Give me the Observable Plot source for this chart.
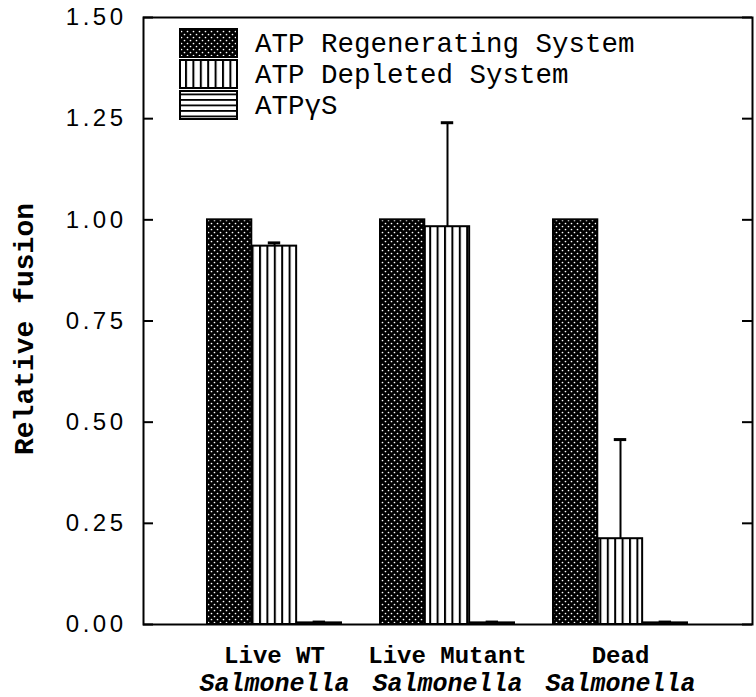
<!DOCTYPE html>
<html>
<head>
<meta charset="utf-8">
<script src="https://cdn.jsdelivr.net/npm/d3@7"></script>
<script src="https://cdn.jsdelivr.net/npm/@observablehq/plot@0.6"></script>
<style>
  html, body { margin: 0; padding: 0; background: #fff; }
  #chart { width: 756px; height: 697px; }
</style>
</head>
<body>
<div id="chart"></div>
<script>
// ---- data ----
const groups = ["Live WT", "Live Mutant", "Dead"];
const organism = "Salmonella";
const series = ["ATP Regenerating System", "ATP Depleted System", "ATPγS"];
const regenerating = [1.0, 1.0, 1.0];
const regeneratingErr = [0, 0, 0];
const depleted = [0.935, 0.983, 0.212];
const depletedErr = [0.008, 0.257, 0.245];
const gammaS = [0.004, 0.004, 0.004];
const gammaSErr = [0.002, 0.002, 0.002];
const yTicks = [0, 0.25, 0.5, 0.75, 1.0, 1.25, 1.5];
const yLabel = "Relative fusion";

// ---- build table ----
const values = [regenerating, depleted, gammaS];
const errors = [regeneratingErr, depletedErr, gammaSErr];
const rows = [];
series.forEach((s, si) => groups.forEach((g, gi) => {
  rows.push({group: g, series: s, si, value: values[si][gi], err: errors[si][gi]});
}));

// ---- layout ----
const W = 756, H = 697;
const mL = 143, mR = 4, mT = 17, mB = 73;
const plotW = W - mL - mR;
const padIn = 0.224, padOut = 0.368;
const step = plotW / (groups.length - padIn + 2 * padOut);
const bw = step * (1 - padIn);
const sub = bw / series.length;
const capW = 13;
const patterns = ["url(#pat-dots)", "url(#pat-vert)", "url(#pat-horiz)"];
const mono = "'Liberation Mono', 'DejaVu Sans Mono', monospace";
const sans = "'Liberation Sans', Arial, sans-serif";

const marks = [];
series.forEach((s, si) => {
  const data = rows.filter(d => d.si === si);
  marks.push(Plot.barY(data, {
    x: "group", y: "value", fill: patterns[si], stroke: "black", strokeWidth: 2,
    insetLeft: si * sub, insetRight: (series.length - 1 - si) * sub
  }));
  const eb = data.filter(d => d.err > 0);
  marks.push(Plot.ruleX(eb, {
    x: "group", y1: "value", y2: d => d.value + d.err,
    dx: (si - (series.length - 1) / 2) * sub, stroke: "black", strokeWidth: 2
  }));
  marks.push(Plot.tickY(eb, {
    x: "group", y: d => d.value + d.err, stroke: "black", strokeWidth: 3,
    insetLeft: si * sub + (sub - capW) / 2,
    insetRight: (series.length - 1 - si) * sub + (sub - capW) / 2
  }));
});

// inward ticks (left & right)
marks.push(Plot.ruleY(yTicks, {stroke: "black", strokeWidth: 2, insetRight: plotW - 10}));
marks.push(Plot.ruleY(yTicks, {stroke: "black", strokeWidth: 2, insetLeft: plotW - 10}));
marks.push(Plot.frame({stroke: "black", strokeWidth: 2}));

// y tick labels
marks.push(Plot.text(yTicks, {
  y: d => d, text: d3.format(".2f"), frameAnchor: "left", textAnchor: "end", dx: -17,
  fontSize: 24, fontFamily: sans, fill: "black"
}));

// y axis title
marks.push(Plot.text([yLabel], {
  frameAnchor: "left", textAnchor: "middle", rotate: -90, dx: -119, dy: 8,
  fontSize: 28, fontWeight: "bold", fontFamily: mono, fill: "black"
}));

// x category labels (two lines)
marks.push(Plot.text(groups, {
  x: d => d, frameAnchor: "bottom", dy: 38, fontSize: 24, fontWeight: "bold",
  fontFamily: mono, fill: "black"
}));
marks.push(Plot.text(groups, {
  x: d => d, text: () => organism, frameAnchor: "bottom", dy: 66, fontSize: 25,
  fontWeight: "bold", fontStyle: "italic", fontFamily: mono, fill: "black"
}));

const chart = Plot.plot({
  width: W, height: H,
  marginLeft: mL, marginRight: mR, marginTop: mT, marginBottom: mB,
  x: {domain: groups, paddingInner: padIn, paddingOuter: padOut, axis: null},
  y: {domain: [0, 1.5], axis: null},
  style: {background: "white", color: "black"},
  marks
});

const svg = d3.select(chart);
svg.selectAll("text").filter(function() { return /^\d\.\d\d$/.test(this.textContent); })
  .style("letter-spacing", "3.5px");

// patterns
const defs = svg.insert("defs", ":first-child");
const pd = defs.append("pattern").attr("id", "pat-dots").attr("patternUnits", "userSpaceOnUse")
  .attr("width", 6).attr("height", 6);
pd.append("rect").attr("width", 6).attr("height", 6).attr("fill", "black");
pd.append("circle").attr("cx", 1.5).attr("cy", 1.5).attr("r", 0.85).attr("fill", "white");
pd.append("circle").attr("cx", 4.5).attr("cy", 4.5).attr("r", 0.85).attr("fill", "white");
const pv = defs.append("pattern").attr("id", "pat-vert").attr("patternUnits", "userSpaceOnUse")
  .attr("width", 7.4).attr("height", 10);
pv.append("rect").attr("width", 7.4).attr("height", 10).attr("fill", "white");
pv.append("rect").attr("x", 0).attr("width", 2).attr("height", 10).attr("fill", "black");
const ph = defs.append("pattern").attr("id", "pat-horiz").attr("patternUnits", "userSpaceOnUse")
  .attr("width", 10).attr("height", 5.5);
ph.append("rect").attr("width", 10).attr("height", 5.5).attr("fill", "white");
ph.append("rect").attr("y", 0).attr("width", 10).attr("height", 1.8).attr("fill", "black");

// legend
const lg = svg.append("g").attr("class", "legend");
const swX = 180, swW = 57, swH = 28, rowY = [29, 60, 91];
series.forEach((s, i) => {
  lg.append("rect").attr("x", swX).attr("y", rowY[i]).attr("width", swW).attr("height", swH)
    .attr("fill", patterns[i]).attr("stroke", "black").attr("stroke-width", 2);
  lg.append("text").attr("x", 255).attr("y", rowY[i] + 23).text(s)
    .attr("text-anchor", "start")
    .attr("font-family", mono).attr("font-size", 27.5).attr("fill", "black");
});

document.getElementById("chart").appendChild(chart);
</script>
</body>
</html>
